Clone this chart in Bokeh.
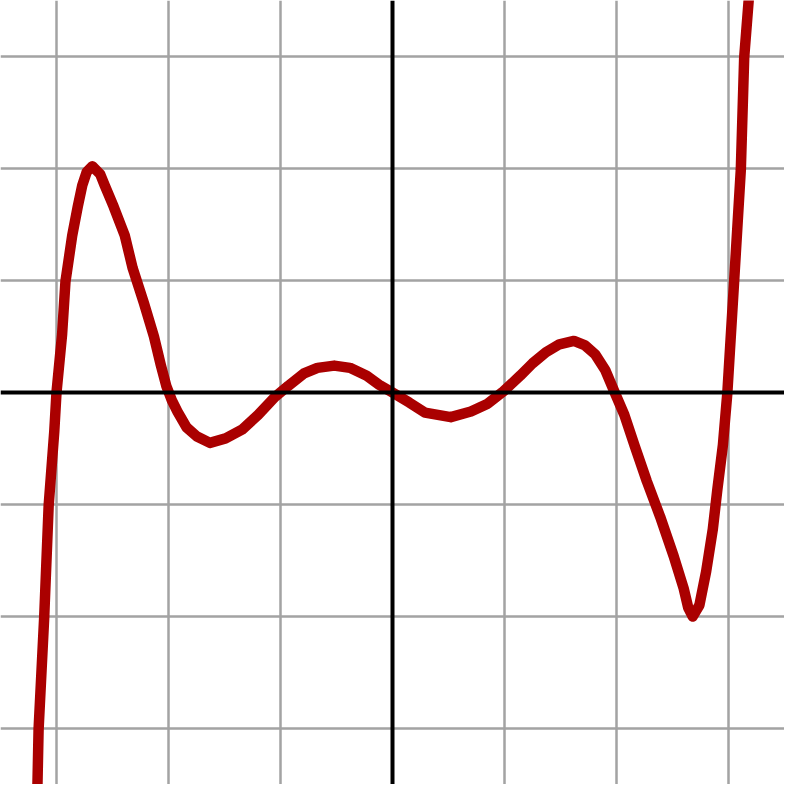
from bokeh.plotting import figure
from bokeh.models import Span, FixedTicker, Range1d
from bokeh.embed import file_html
from bokeh.resources import INLINE

# curve points (data units)
curve_x = [-3.17, -3.16, -3.11, -3.07, -3.02, -3.00, -2.95, -2.92, -2.86, -2.81, -2.77, -2.73,
           -2.68, -2.61, -2.57, -2.49, -2.39, -2.32, -2.22, -2.13, -2.07, -2.02, -1.97, -1.92, -1.84,
           -1.75, -1.63, -1.49, -1.34, -1.20, -1.05, -0.93, -0.79, -0.67, -0.52, -0.38,
           -0.23, -0.12, 0.00, 0.15, 0.29, 0.52, 0.70, 0.85, 0.99, 1.14, 1.25, 1.37,
           1.49, 1.62, 1.72, 1.81, 1.90, 1.98, 2.07, 2.16, 2.27, 2.39, 2.51, 2.60,
           2.64, 2.68, 2.74, 2.80, 2.86, 2.90, 2.95, 2.99, 3.05, 3.11, 3.14, 3.18]
curve_y = [-3.50, -3.01, -2.01, -1.01, -0.35, 0.00, 0.52, 0.99, 1.40, 1.66, 1.85, 1.97,
           2.02, 1.95, 1.85, 1.66, 1.40, 1.11, 0.80, 0.50, 0.25, 0.06, -0.07, -0.17, -0.31,
           -0.39, -0.45, -0.41, -0.33, -0.20, -0.04, 0.06, 0.17, 0.22, 0.24, 0.22,
           0.15, 0.07, 0.00, -0.09, -0.18, -0.22, -0.17, -0.10, 0.01, 0.15, 0.26, 0.36,
           0.43, 0.46, 0.42, 0.34, 0.20, 0.01, -0.20, -0.47, -0.79, -1.11, -1.46, -1.75,
           -1.92, -2.00, -1.90, -1.60, -1.22, -0.87, -0.47, 0.00, 0.99, 1.99, 2.99, 3.50]
grid_ticks = [-3, -2, -1, 1, 2, 3]

p = figure(width=784, height=784, output_backend="svg", toolbar_location=None,
           x_range=Range1d(-3.5, 3.5), y_range=Range1d(-3.5, 3.5),
           min_border=0, outline_line_color=None, background_fill_color="white")
p.axis.visible = False
p.xgrid.ticker = FixedTicker(ticks=grid_ticks)
p.ygrid.ticker = FixedTicker(ticks=grid_ticks)
p.grid.grid_line_color = "#a3a3a3"
p.grid.grid_line_width = 2.5
p.grid.grid_line_alpha = 1.0

p.add_layout(Span(location=0, dimension="width", line_color="black", line_width=4))
p.add_layout(Span(location=0, dimension="height", line_color="black", line_width=4))

p.line(curve_x, curve_y, line_color="#aa0000", line_width=10.5,
       line_join="round", line_cap="round")

open("out.html", "w").write(file_html(p, INLINE))
